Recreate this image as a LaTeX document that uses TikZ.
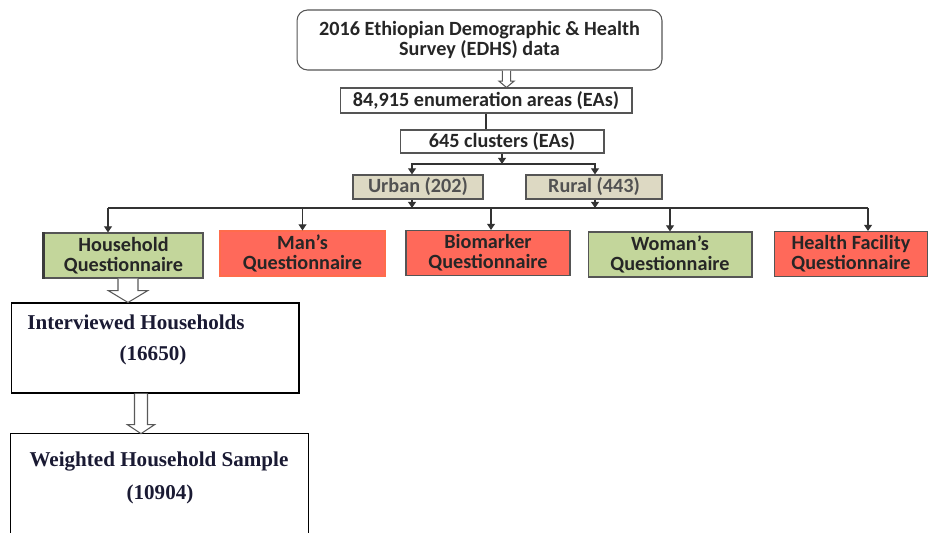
\documentclass[tikz,border=0pt]{standalone}
\usepackage{fontspec}
\setmainfont{Carlito}
\newfontfamily\timesfont{Liberation Serif}
\usetikzlibrary{arrows.meta,calc}
\definecolor{qgreen}{HTML}{C3D69B}
\definecolor{qred}{HTML}{FF695A}
\definecolor{qbeige}{HTML}{DDD9C3}
\definecolor{edgegray}{HTML}{555555}
\definecolor{navytext}{HTML}{1A1A33}
% hollow block arrow going down: start, end, shaft half width, head half width, head length
\newcommand\fatarrow[5]{%
  \draw[fatline] let \p1=(#1), \p2=(#2) in
    (\x1-#3,\y1) -- (\x1-#3,\y2+#5) -- (\x1-#4,\y2+#5) -- (\x1,\y2)
    -- (\x1+#4,\y2+#5) -- (\x1+#3,\y2+#5) -- (\x1+#3,\y1);
}
\begin{document}
\begin{tikzpicture}[x=0.02cm,y=-0.02cm,
  every node/.style={font=\fontsize{11.5}{11.5}\selectfont\bfseries,inner sep=0pt,align=center},
  box/.style={rectangle,draw=edgegray,line width=0.6pt,text=black!85},
  greenq/.style={box,fill=qgreen,minimum height=0.9cm},
  redq/.style={box,fill=qred,minimum height=0.9cm},
  areabox/.style={box,fill=qbeige,minimum height=0.48cm,text=black!68},
  serifnote/.style={font=\fontsize{12}{12}\selectfont\timesfont\bfseries,text=navytext},
  link/.style={draw=black!80,line width=0.7pt},
  tip/.style={link,-{Triangle[width=4.5pt,length=3.5pt]}},
  fatline/.style={draw=black!65,line width=0.6pt,fill=white}
]
\useasboundingbox (0,0) rectangle (928,533);

% top of the sampling frame
\node[box,rounded corners=6pt,minimum width=7.3cm,minimum height=1.2cm] (survey) at (479.5,40)
  {2016 Ethiopian Demographic \& Health\\Survey (EDHS) data};
\node[box,minimum width=5.84cm,minimum height=0.5cm] (eas) at (486,100.5) {84,915 enumeration areas (EAs)};
\node[box,minimum width=4.08cm,minimum height=0.46cm] (clusters) at (502,141.5) {645 clusters (EAs)};
\node[areabox,minimum width=2.6cm] (urban) at (418,187) {Urban (202)};
\node[areabox,minimum width=2.72cm] (rural) at (594,187) {Rural (443)};

% questionnaires
\node[greenq,minimum width=3.18cm] (hq) at (123.5,255.5) {Household\\Questionnaire};
\node[redq,draw=qred!85!orange,minimum width=3.3cm] (mq) at (302.5,253.5) {Man's\\Questionnaire};
\node[redq,minimum width=3.28cm] (bq) at (488,253) {Biomarker\\Questionnaire};
\node[greenq,minimum width=3.28cm] (wq) at (670,254.5) {Woman's\\Questionnaire};
\node[redq,minimum width=3.08cm] (fq) at (851,254) {Health Facility\\Questionnaire};
\draw[edgegray!70!black,line width=1.3pt] (hq.south west) -- (hq.north west);

% household sample
\node[box,draw=black,minimum width=5.76cm,minimum height=1.8cm] (ih) at (155,348) {};
\node[serifnote] (ihname) at (136,322) {Interviewed Households};
\node[serifnote] (ihnum) at (153,355) {(16650)};
\node[minimum width=5.94cm,minimum height=1.98cm] (ws) at (159.5,483.5) {};
\draw[black,line width=0.6pt] (ws.south west) -- (ws.north west) -- (ws.north east) -- (ws.south east);
\node[serifnote] (wsname) at (159,462) {Weighted Household Sample};
\node[serifnote] (wsnum) at (160,494) {(10904)};

% connectors
\path (survey.south) ++(27,0) coordinate (s1);
\fatarrow{s1}{s1 |- eas.north}{2.3pt}{4.3pt}{3.6pt}
\draw[link] (eas.south) -- (eas.south |- clusters.north);
\coordinate (split) at (502,164);
\draw[tip] (clusters.south) -- (split);
\draw[tip] (split) -| ([xshift=-6*0.02cm]urban.north);
\draw[tip] (split) -| ([xshift=1*0.02cm]rural.north);

\coordinate (busw) at (108,208);
\coordinate (buse) at (868,208);
\draw[tip] ([xshift=-6*0.02cm]urban.south) -- ([xshift=-6*0.02cm]urban.south |- busw);
\draw[tip] ([xshift=1*0.02cm]rural.south) -- ([xshift=1*0.02cm]rural.south |- busw);
\draw[link] (busw) -- (buse);
\draw[tip] (busw) -- (busw |- hq.north);
\draw[tip] (mq.north |- busw) -- (mq.north);
\draw[tip] ([xshift=3*0.02cm]bq.north |- busw) -- ([xshift=3*0.02cm]bq.north);
\draw[tip] (wq.north |- busw) -- (wq.north);
\draw[tip] (buse) -- (buse |- fq.north);

\path (hq.south) ++(4.5,0) coordinate (h1);
\fatarrow{h1}{h1 |- ih.north}{5.7pt}{11.3pt}{6.8pt}
\path (ih.south) ++(-14,0) coordinate (i1);
\fatarrow{i1}{i1 |- ws.north}{3.7pt}{7.7pt}{5.1pt}
\end{tikzpicture}
\end{document}
